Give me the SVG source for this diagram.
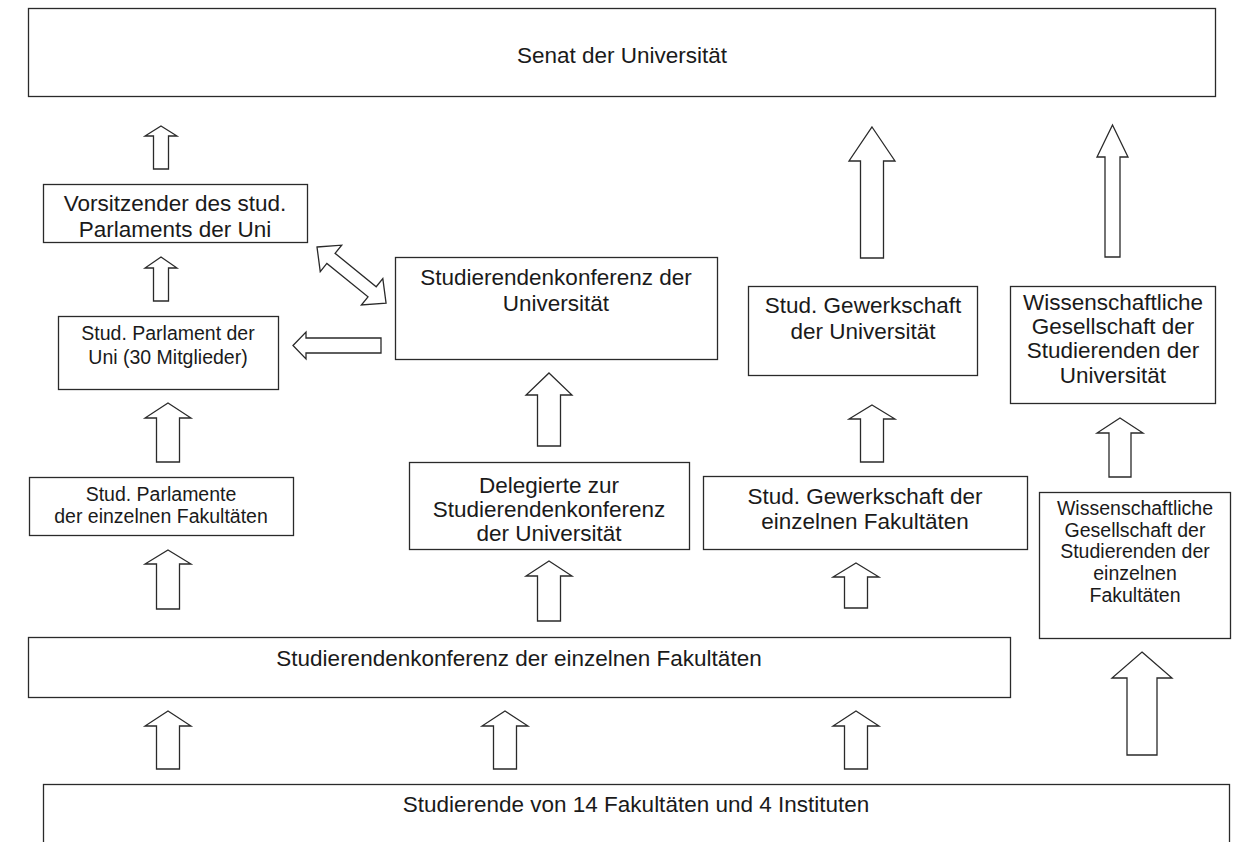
<svg xmlns="http://www.w3.org/2000/svg" width="1247" height="842" viewBox="0 0 1247 842">
<style>
.box{fill:#fff;stroke:#2a2a2a;stroke-width:1.3}
.arr{fill:#fff;stroke:#2a2a2a;stroke-width:1.3;stroke-linejoin:miter}
.t{font-family:"Liberation Sans",Arial,sans-serif;font-size:22.5px;fill:#1a1a1a;text-anchor:middle}
.s{font-family:"Liberation Sans",Arial,sans-serif;font-size:19.5px;fill:#1a1a1a;text-anchor:middle}
</style>
<rect width="1247" height="842" fill="#fff"/>
<g id="senat"><rect class="box" x="28.5" y="8.5" width="1187" height="88"/><text class="t" x="622" y="63">Senat der Universität</text></g>
<g id="vorsitzender"><rect class="box" x="43.5" y="184.5" width="264" height="58"/><text class="t" x="175" y="211">Vorsitzender des stud.</text><text class="t" x="175" y="237">Parlaments der Uni</text></g>
<g id="parlament-uni"><rect class="box" x="58.5" y="316.5" width="220" height="73"/><text class="s" x="168" y="340">Stud. Parlament der</text><text class="s" x="168" y="364">Uni (30 Mitglieder)</text></g>
<g id="sk-uni"><rect class="box" x="395.5" y="257.5" width="322" height="102"/><text class="t" x="556" y="285">Studierendenkonferenz der</text><text class="t" x="556" y="311">Universität</text></g>
<g id="gew-uni"><rect class="box" x="748.5" y="286.5" width="229" height="89"/><text class="t" x="863" y="313">Stud. Gewerkschaft</text><text class="t" x="863" y="339">der Universität</text></g>
<g id="wiss-uni"><rect class="box" x="1010.5" y="286.5" width="205" height="117"/><text class="t" x="1113" y="310">Wissenschaftliche</text><text class="t" x="1113" y="334">Gesellschaft der</text><text class="t" x="1113" y="358">Studierenden der</text><text class="t" x="1113" y="383">Universität</text></g>
<g id="parlamente-fak"><rect class="box" x="29.5" y="477.5" width="264" height="58"/><text class="s" x="161" y="501">Stud. Parlamente</text><text class="s" x="161" y="523">der einzelnen Fakultäten</text></g>
<g id="delegierte"><rect class="box" x="409.5" y="462.5" width="280" height="87"/><text class="t" x="549" y="493">Delegierte zur</text><text class="t" x="549" y="517">Studierendenkonferenz</text><text class="t" x="549" y="541">der Universität</text></g>
<g id="gew-fak"><rect class="box" x="703.5" y="476.5" width="324" height="73"/><text class="t" x="865" y="504">Stud. Gewerkschaft der</text><text class="t" x="865" y="529">einzelnen Fakultäten</text></g>
<g id="wiss-fak"><rect class="box" x="1039.5" y="492.5" width="191" height="146"/><text class="s" x="1135" y="515">Wissenschaftliche</text><text class="s" x="1135" y="537">Gesellschaft der</text><text class="s" x="1135" y="558">Studierenden der</text><text class="s" x="1135" y="580">einzelnen</text><text class="s" x="1135" y="602">Fakultäten</text></g>
<g id="sk-fak"><rect class="box" x="28.5" y="637.5" width="982" height="60"/><text class="t" x="519" y="666">Studierendenkonferenz der einzelnen Fakultäten</text></g>
<g id="studierende"><rect class="box" x="43.5" y="784.5" width="1186" height="80"/><text class="t" x="636" y="812">Studierende von 14 Fakultäten und 4 Instituten</text></g>
<g id="connectors">
<polygon class="arr" points="161,126 177,136 168.5,136 168.5,169 153.5,169 153.5,136 145,136"/>
<polygon class="arr" points="161,257 177,268 168.5,268 168.5,301 153.5,301 153.5,268 145,268"/>
<polygon class="arr" points="168,403 191,418 179.5,418 179.5,462 156.5,462 156.5,418 145,418"/>
<polygon class="arr" points="168,550 191,564 179.5,564 179.5,609 156.5,609 156.5,564 145,564"/>
<polygon class="arr" points="168,711 191,726 179.5,726 179.5,769 156.5,769 156.5,726 145,726"/>
<polygon class="arr" points="505,711 528,726 516.5,726 516.5,769 493.5,769 493.5,726 482,726"/>
<polygon class="arr" points="856,711 879,726 867.5,726 867.5,769 844.5,769 844.5,726 833,726"/>
<polygon class="arr" points="549,373 572,395 560.5,395 560.5,446 537.5,446 537.5,395 526,395"/>
<polygon class="arr" points="549,561 572,576 560.5,576 560.5,621 537.5,621 537.5,576 526,576"/>
<polygon class="arr" points="872,405 895,419 883.5,419 883.5,462 860.5,462 860.5,419 849,419"/>
<polygon class="arr" points="856,563 879,577 867.5,577 867.5,608 844.5,608 844.5,577 833,577"/>
<polygon class="arr" points="872,127 895,161 883.5,161 883.5,258 860.5,258 860.5,161 849,161"/>
<polygon class="arr" points="1112.5,125 1128,157 1120,157 1120,257 1105,257 1105,157 1097,157"/>
<polygon class="arr" points="1120,418 1143,433 1131,433 1131,477 1109,477 1109,433 1097,433"/>
<polygon class="arr" points="1142,652 1172,678 1157,678 1157,755 1127,755 1127,678 1112,678"/>
<polygon class="arr" points="293,345.5 306,332 306,338 381,338 381,353 306,353 306,359"/>
<polygon class="arr" transform="translate(317,247) rotate(39.1)" points="0,0 18,-17 18,-6.5 71,-6.5 71,-17 89,0 71,17 71,6.5 18,6.5 18,17"/>
</g>
</svg>
